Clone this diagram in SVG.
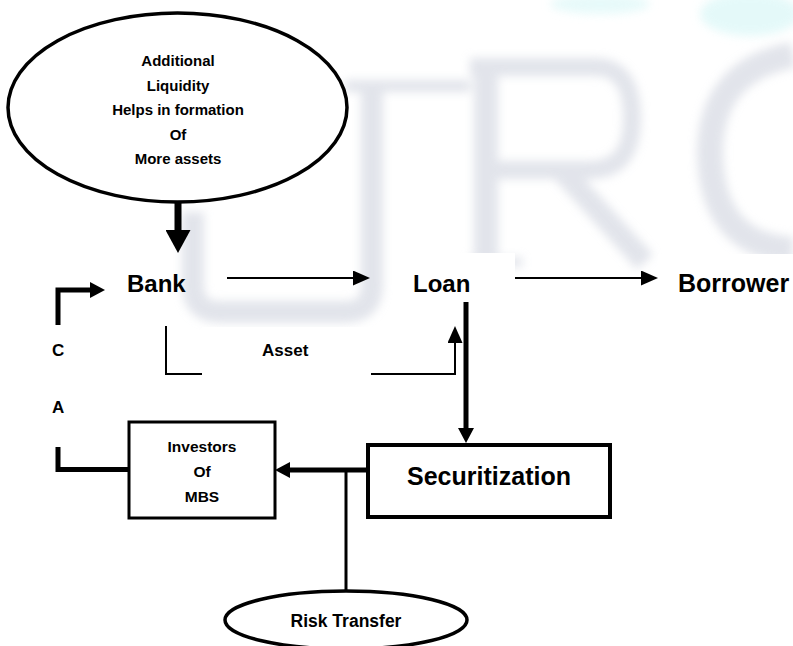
<svg xmlns="http://www.w3.org/2000/svg" width="793" height="646" viewBox="0 0 793 646">
<style>
  .t { font-family: "Liberation Sans", Arial, sans-serif; font-weight: bold; fill: #000; }
  .c { text-anchor: middle; }
  .shape { fill: #fff; stroke: #000; }
  .thin { stroke: #000; stroke-width: 2; fill: none; }
  .thick { stroke: #000; stroke-width: 5; fill: none; }
  .wm { fill: none; stroke: #cfd3de; }
</style>
<defs>
  <filter id="blur" x="-20%" y="-20%" width="140%" height="140%">
    <feGaussianBlur stdDeviation="5"/>
  </filter>
  <marker id="ahThin" markerUnits="userSpaceOnUse" markerWidth="17" markerHeight="15" refX="0" refY="7.5" orient="auto">
    <path d="M0,0 L17,7.5 L0,15 z" fill="#000"/>
  </marker>
  <marker id="ahThick" markerUnits="userSpaceOnUse" markerWidth="15" markerHeight="16" refX="0" refY="8" orient="auto">
    <path d="M0,0 L15,8 L0,16 z" fill="#000"/>
  </marker>
  <marker id="ahBig" markerUnits="userSpaceOnUse" markerWidth="23" markerHeight="25" refX="0" refY="12.5" orient="auto">
    <path d="M0,0 L23,12.5 L0,25 z" fill="#000"/>
  </marker>
</defs>

<rect x="0" y="0" width="793" height="646" fill="#fff"/>

<!-- faint background watermark -->
<g id="watermark" filter="url(#blur)" opacity="0.6">
  <ellipse cx="600" cy="4" rx="50" ry="10" fill="#d7f7f7"/>
  <ellipse cx="750" cy="14" rx="50" ry="22" fill="#d3f6f6"/>
  <path class="wm" d="M345,86 H470" stroke-width="12" stroke="#d8dbe2"/>
  <path class="wm" d="M372,86 V285 Q372,312 345,312 H220 Q193,312 193,285 V212" stroke-width="22"/>
  <path class="wm" d="M486,66 V258" stroke-width="24"/>
  <path class="wm" d="M470,67 H595 Q632,67 632,118 Q632,170 590,170 H486" stroke-width="18" stroke="#d3d2de"/>
  <path class="wm" d="M563,172 L645,262" stroke-width="22" stroke="#d2d4da"/>
  <path class="wm" d="M468,262 H522" stroke-width="10"/>
  <path class="wm" d="M793,55 Q712,70 710,150 Q710,245 793,250" stroke-width="26" stroke="#cfd8df"/>
  <path class="wm" d="M760,62 L793,52" stroke-width="12" stroke="#e2d3e2"/>
</g>

<!-- white label boxes hiding the watermark -->
<g id="label-boxes" fill="#fff">
  <rect x="393" y="253" width="122" height="74"/>
  <rect x="658" y="254" width="135" height="50"/>
  <rect x="202" y="327" width="169" height="88"/>
</g>

<g id="connectors">
  <!-- liquidity to bank -->
  <line x1="178" y1="202" x2="178" y2="230" stroke="#000" stroke-width="7" marker-end="url(#ahBig)"/>
  <!-- bank to loan -->
  <line class="thin" x1="227" y1="278" x2="353" y2="278" marker-end="url(#ahThin)"/>
  <!-- loan to borrower -->
  <line class="thin" x1="515" y1="278" x2="641" y2="278" marker-end="url(#ahThin)"/>
  <!-- asset: bank to loan -->
  <path class="thin" d="M166,326 V374 H202"/>
  <path class="thin" d="M371,374 H455 V343" marker-end="url(#ahThin)"/>
  <!-- loan to securitization -->
  <line class="thick" x1="466" y1="302" x2="466" y2="428" marker-end="url(#ahThick)"/>
  <!-- securitization to investors -->
  <line class="thick" x1="368" y1="470" x2="290" y2="470" marker-end="url(#ahThick)"/>
  <!-- risk transfer line -->
  <line x1="346" y1="470" x2="346" y2="591" stroke="#000" stroke-width="3"/>
  <!-- cash back to bank (C A) -->
  <path class="thick" d="M58,325 V290 H90" stroke-linejoin="miter" marker-end="url(#ahThick)"/>
  <path class="thick" d="M58,447 V469.5 H129" stroke-linejoin="miter"/>
</g>

<g id="n-liquidity">
  <ellipse class="shape" cx="177.5" cy="107.5" rx="169.5" ry="94.5" stroke-width="3.5"/>
  <text class="t c" x="178" y="66" font-size="15">Additional</text>
  <text class="t c" x="178" y="90.5" font-size="15">Liquidity</text>
  <text class="t c" x="178" y="115" font-size="15">Helps in formation</text>
  <text class="t c" x="178" y="139.5" font-size="15">Of</text>
  <text class="t c" x="178" y="164" font-size="15">More assets</text>
</g>

<g id="n-bank">
  <text class="t" x="127" y="292" font-size="24">Bank</text>
</g>

<g id="n-loan">
  <text class="t" x="413" y="292" font-size="24">Loan</text>
</g>

<g id="n-borrower">
  <text class="t" x="678" y="292" font-size="25">Borrower</text>
</g>

<g id="n-asset">
  <text class="t" x="262" y="356" font-size="17">Asset</text>
</g>

<g id="n-ca">
  <text class="t" x="52" y="356" font-size="17">C</text>
  <text class="t" x="52" y="413" font-size="17">A</text>
</g>

<g id="n-investors">
  <rect class="shape" x="129" y="422" width="146" height="96" stroke-width="3"/>
  <text class="t c" x="202" y="452" font-size="15.5">Investors</text>
  <text class="t c" x="202" y="477" font-size="15.5">Of</text>
  <text class="t c" x="202" y="502" font-size="15.5">MBS</text>
</g>

<g id="n-securitization">
  <rect class="shape" x="368" y="445" width="242" height="72" stroke-width="4"/>
  <text class="t c" x="489" y="485" font-size="25">Securitization</text>
</g>

<g id="n-risk">
  <ellipse class="shape" cx="346" cy="620" rx="121" ry="29" stroke-width="3.5"/>
  <text class="t c" x="346" y="627" font-size="17.5">Risk Transfer</text>
</g>
</svg>
